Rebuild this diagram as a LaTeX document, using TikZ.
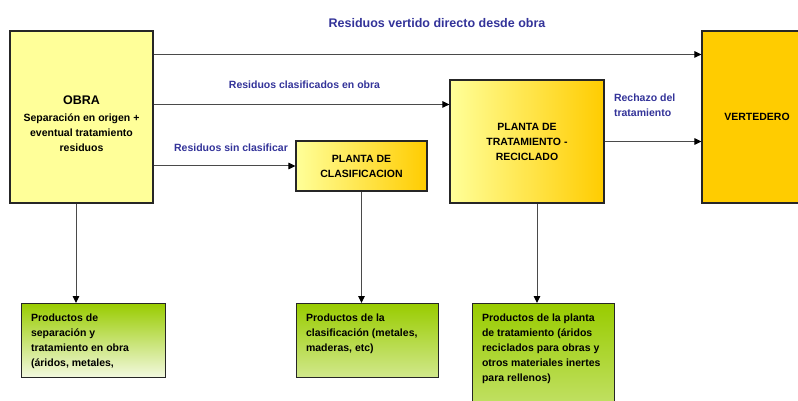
\documentclass[tikz,border=0pt]{standalone}
\usepackage{fontspec}
\setmainfont{Liberation Sans}
\usetikzlibrary{arrows.meta}
\definecolor{amarillo}{HTML}{FFFF99}
\definecolor{oro}{HTML}{FFCC00}
\definecolor{verde}{HTML}{99CC00}
\definecolor{azul}{HTML}{333399}
\definecolor{linea}{HTML}{4A4A4A}

\begin{document}
\begin{tikzpicture}[x=1pt, y=-1pt,
    box/.style={draw=black!85, line width=1.1pt, align=center, inner sep=0pt,
                font=\fontsize{10.5}{15}\selectfont\bfseries},
    prod/.style={draw=black!85, line width=1.1pt, anchor=north west,
                 inner xsep=9.5pt, inner ysep=10pt, top color=verde,
                 font=\fontsize{10.5}{15}\selectfont\bfseries},
    flujo/.style={text=azul, inner sep=0pt, font=\fontsize{10.5}{15}\selectfont\bfseries},
    arr/.style={-{Triangle[length=7pt, width=6.5pt, color=black]}, draw=linea, line width=1pt}
]
    \useasboundingbox (0,0) rectangle (798,401);
    \clip (0,0) rectangle (798,401);

    \node[box, fill=amarillo, minimum width=143pt, minimum height=172pt] (obra) at (81.5,117)
        {\rule{0pt}{22pt}{\fontsize{12.5}{15}\selectfont OBRA}\\[2.3pt]
         Separación en origen +\\eventual tratamiento\\residuos};
    \node[box, left color=amarillo, right color=oro, minimum width=131pt,
          minimum height=50pt] (clas) at (361.5,166) {PLANTA DE\\CLASIFICACION};
    \node[box, left color=amarillo, right color=oro, minimum width=154pt,
          minimum height=123pt] (trat) at (527,141.5) {PLANTA DE\\TRATAMIENTO -\\RECICLADO};
    \node[box, fill=oro, minimum width=110pt, minimum height=172pt] (vert) at (757,117) {VERTEDERO};

    \node[prod, bottom color=verde!12] (prodA) at (21,303)
        {\parbox[c][54pt][t]{125pt}{\raggedright Productos de\\separación y\\tratamiento en obra\\(áridos, metales,}};
    \node[prod, bottom color=verde!45] (prodB) at (296,303)
        {\parbox[c][54pt][t]{123pt}{\raggedright Productos de la\\clasificación (metales,\\maderas, etc)}};
    \node[prod, bottom color=verde!50] (prodC) at (472,303)
        {\parbox[c][110pt][t]{123pt}{\raggedright Productos de la planta\\de tratamiento (áridos\\reciclados para obras y\\otros materiales inertes\\para rellenos)}};

    % flujos de residuos desde la obra
    \coordinate (entrada) at ([yshift=-25pt]trat.north west);
    \draw[arr] ([yshift=-24pt]obra.north east) -- node[flujo, above=26.5pt, xshift=9.5pt, font=\fontsize{12.5}{15}\selectfont\bfseries]
        {Residuos vertido directo desde obra} ([yshift=-24pt]obra.north east -| vert.west);
    \draw[arr] (obra.east |- entrada) -- node[flujo, above=15.2pt, xshift=3pt] {Residuos clasificados en obra} (entrada);
    \draw[arr] (obra.east |- clas.west) -- node[flujo, above=14pt, xshift=6.5pt] {Residuos sin clasificar} (clas.west);
    \draw[arr] (trat.east) -- node[flujo, pos=0, anchor=south west, xshift=9pt, yshift=24.7pt, align=left]
        {Rechazo del\\tratamiento} (trat.east -| vert.west);

    % productos
    \coordinate (bajaobra) at ([xshift=-5.5pt]obra.south);
    \coordinate (bajatrat) at ([xshift=10pt]trat.south);
    \draw[arr] (bajaobra) -- (bajaobra |- prodA.north);
    \draw[arr] (clas.south) -- (clas.south |- prodB.north);
    \draw[arr] (bajatrat) -- (bajatrat |- prodC.north);
\end{tikzpicture}
\end{document}
